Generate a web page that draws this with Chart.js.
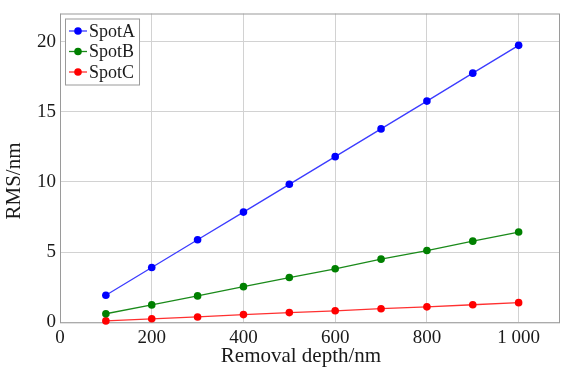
<!DOCTYPE html>
<html>
<head>
<meta charset="utf-8">
<script src="https://cdn.jsdelivr.net/npm/chart.js@4/dist/chart.umd.min.js"></script>
<style>
  html, body { margin: 0; padding: 0; background: #fff; }
  #wrap { width: 564px; height: 371px; position: relative; }
</style>
</head>
<body>
<div id="wrap"><canvas id="c" width="564" height="371"></canvas></div>
<script>
const depths = [100, 200, 300, 400, 500, 600, 700, 800, 900, 1000];
const spotA = [1.93, 3.90, 5.88, 7.85, 9.83, 11.80, 13.78, 15.76, 17.75, 19.73];
const spotB = [0.61, 1.24, 1.88, 2.54, 3.19, 3.81, 4.50, 5.11, 5.78, 6.43];
const spotC = [0.10, 0.25, 0.38, 0.55, 0.69, 0.82, 0.97, 1.10, 1.25, 1.40];
const seriesNames = ['SpotA', 'SpotB', 'SpotC'];
const xTicks = [0, 200, 400, 600, 800, 1000];
const yTicks = [0, 5, 10, 15, 20];
const xTitle = 'Removal depth/nm';
const yTitle = 'RMS/nm';

const FONT = '"Liberation Serif", "Times New Roman", serif';
const lineColors = ['#3b3bff', '#1a8a1a', '#ff3030'];
const pointColors = ['#0000ff', '#008000', '#ff0000'];

function pts(arr) { return depths.map((d, i) => ({ x: d, y: arr[i] })); }

const datasets = [spotA, spotB, spotC].map((arr, i) => ({
  label: seriesNames[i],
  data: pts(arr),
  borderColor: lineColors[i],
  backgroundColor: pointColors[i],
  pointBackgroundColor: pointColors[i],
  pointBorderColor: pointColors[i],
  pointRadius: 3.8,
  pointBorderWidth: 0,
  borderWidth: 1.3,
  tension: 0,
  clip: false
}));

const fmt = v => String(v).replace(/\B(?=(\d{3})+(?!\d))/g, ' ');

const framePlugin = {
  id: 'frame',
  beforeDatasetsDraw(chart) {
    const { ctx, chartArea: a } = chart;
    ctx.save();
    ctx.strokeStyle = '#9a9a9a';
    ctx.lineWidth = 1;
    ctx.strokeRect(a.left + 0.5, a.top + 0.5, a.right - a.left, a.bottom - a.top);
    ctx.restore();
  },
  afterDraw(chart) {
    const { ctx, chartArea: a } = chart;
    ctx.save();
    // axis titles
    ctx.fillStyle = '#1a1a1a';
    ctx.font = '21px ' + FONT;
    ctx.textAlign = 'center';
    ctx.textBaseline = 'middle';
    ctx.fillText(xTitle, 301, 356);
    ctx.translate(14, 181);
    ctx.rotate(-Math.PI / 2);
    ctx.fillText(yTitle, 0, 0);
    ctx.restore();

    // legend
    ctx.save();
    ctx.font = '18px ' + FONT;
    const bx = a.left + 5, by = a.top + 5;
    let maxW = 0;
    chart.data.datasets.forEach(ds => { maxW = Math.max(maxW, ctx.measureText(ds.label).width); });
    const bw = 25 + maxW + 3, bh = 66;
    ctx.fillStyle = '#fff';
    ctx.fillRect(bx, by, bw, bh);
    ctx.strokeStyle = '#9a9a9a';
    ctx.lineWidth = 1;
    ctx.strokeRect(bx + 0.5, by + 0.5, bw, bh);
    chart.data.datasets.forEach((ds, i) => {
      const cy = by + 12.5 + i * 20.5;
      ctx.strokeStyle = ds.borderColor;
      ctx.lineWidth = 1.3;
      ctx.beginPath();
      ctx.moveTo(bx + 4, cy);
      ctx.lineTo(bx + 22, cy);
      ctx.stroke();
      ctx.fillStyle = ds.pointBackgroundColor;
      ctx.beginPath();
      ctx.arc(bx + 13, cy, 3.8, 0, Math.PI * 2);
      ctx.fill();
      ctx.fillStyle = '#1a1a1a';
      ctx.textAlign = 'left';
      ctx.textBaseline = 'middle';
      ctx.fillText(ds.label, bx + 24, cy + 1);
    });
    ctx.restore();
  }
};

new Chart(document.getElementById('c'), {
  type: 'line',
  data: { datasets },
  plugins: [framePlugin],
  options: {
    responsive: false,
    animation: false,
    devicePixelRatio: 1,
    layout: { padding: { top: 13, right: 5, left: 0, bottom: 0 } },
    plugins: { legend: { display: false }, tooltip: { enabled: false } },
    scales: {
      x: {
        type: 'linear',
        min: 0,
        max: 1088,
        afterFit: s => { s.height = 48.7; },
        afterBuildTicks: s => { s.ticks = xTicks.map(v => ({ value: v })); },
        ticks: {
          includeBounds: false,
          padding: 6,
          color: '#1a1a1a',
          font: { family: FONT, size: 19, lineHeight: 1 },
          callback: v => fmt(v),
          maxRotation: 0,
          autoSkip: false
        },
        grid: { color: '#d2d2d2', lineWidth: 1, drawTicks: false },
        border: { display: false }
      },
      y: {
        type: 'linear',
        min: 0,
        max: 22,
        afterFit: s => { s.width = 60; },
        afterBuildTicks: s => { s.ticks = yTicks.map(v => ({ value: v })); },
        ticks: {
          includeBounds: false,
          padding: 4,
          color: '#1a1a1a',
          font: { family: FONT, size: 19, lineHeight: 1 },
          autoSkip: false
        },
        grid: { color: '#d2d2d2', lineWidth: 1, drawTicks: false },
        border: { display: false }
      }
    }
  }
});
</script>
</body>
</html>
